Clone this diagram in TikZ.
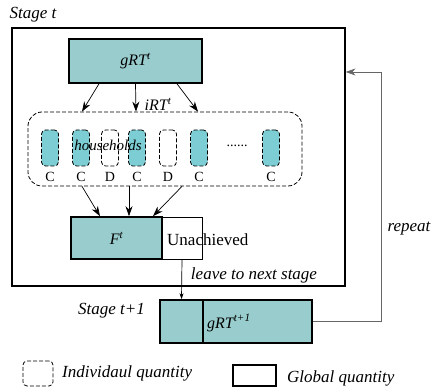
\documentclass[tikz,border=0pt]{standalone}
\usepackage{fontspec}
\setmainfont{Liberation Serif}
\usepackage{xcolor}
\usetikzlibrary{calc,positioning,arrows.meta}

\definecolor{gfill}{RGB}{153,204,204}
\definecolor{hfill}{RGB}{125,206,212}

\begin{document}
\begin{tikzpicture}[x=1pt,y=-1pt,
  gbox/.style={draw,line width=1.6pt,fill=gfill,inner sep=0pt},
  dsh/.style={draw,dash pattern=on 4pt off 2pt,line width=0.8pt},
  hbox/.style={dsh,rounded corners=4pt,minimum width=17,minimum height=36,inner sep=0pt},
  arr/.style={-{Stealth[length=10pt,width=7pt]},line width=0.7pt},
  lab/.style={font=\fontsize{17}{19}\selectfont\itshape,inner sep=0pt}]
\useasboundingbox (0,0) rectangle (432,387);
% stage t
\node [draw,line width=1.2pt,minimum width=333,minimum height=258,inner sep=0pt] (stage) at (178.5,157) {};
\node [lab] (st) at (33,15) {Stage t};
\node [gbox,minimum width=133,minimum height=44,font=\fontsize{16}{18}\selectfont\itshape] (grt) at (135.5,61) {gRT\textsuperscript{t}};
\node [dsh,rounded corners=14pt,minimum width=274,minimum height=74,inner sep=0pt] (hh) at (165,149) {};
\foreach \x/\t/\f in {50/C/hfill,81/C/hfill,110/D/white,137/C/hfill,168/D/white,199/C/hfill,271/C/hfill}
  {\node [hbox,fill=\f] (h\x) at (\x,148) {};
   \node [font=\fontsize{14}{16}\selectfont,inner sep=0pt] (c\x) at (\x,177) {\t};}
\node [font=\fontsize{14}{16}\selectfont,inner sep=0pt] (dots) at (237,146) {......};
\node [font=\fontsize{15}{17}\selectfont\itshape,inner sep=0pt] (hlab) at (108,145) {households};
\node [font=\fontsize{16}{18}\selectfont\itshape,inner sep=0pt] (irt) at (158,104) {iRT\textsuperscript{t}};
\draw [arr] ([xshift=-36.5]grt.south) -- ([xshift=-83]hh.north);
\draw [arr] (grt.south) -- ([xshift=-29]hh.north);
\draw [arr] ([xshift=41.5]grt.south) -- ([xshift=33]hh.north);
\node [gbox,minimum width=91,minimum height=42,font=\fontsize{16}{18}\selectfont\itshape] (f) at (116.5,238) {F\textsuperscript{t}};
\node [draw,line width=0.6pt,minimum width=40,minimum height=42,inner sep=0pt] (ua) at (182,238) {};
\node [font=\fontsize{17}{19}\selectfont,inner sep=0pt,anchor=west] (ualab) at (167,240) {Unachieved};
\draw [arr] ([xshift=-83]hh.south) -- ([xshift=-16.5]f.north);
\draw [arr] ([xshift=-36]hh.south) -- ([xshift=12.5]f.north);
\draw [arr] ([xshift=17]hh.south) -- ([xshift=36.5]f.north);
% stage t+1
\node [gbox,minimum width=43,minimum height=43] (nl) at (181.5,321.5) {};
\node [gbox,minimum width=109,minimum height=43] (ng) at (257.5,321.5) {};
\node [font=\fontsize{16}{18}\selectfont\itshape,inner sep=0pt,anchor=west] (ngl) at (207,323) {gRT\textsuperscript{t+1}};
\node [lab] (st2) at (111.5,311) {Stage t+1};
\draw [-{Stealth[length=6pt,width=4pt]},line width=0.7pt] (ua.south) -- (nl.north);
\node [lab] (leave) at (254,275) {leave to next stage};
% repeat
\coordinate (rp) at (381,72);
\draw [gray!80!black,line width=0.8pt,arr] (ng.east) -| (rp) -- (stage.east |- rp);
\node [lab] (rep) at (409,229) {repeat};
% legend
\node [dsh,rounded corners=4pt,minimum width=30,minimum height=25,inner sep=0pt] (lg1) at (38,373.5) {};
\node [lab,anchor=west] (lg1t) at (62,373) {Individaul quantity};
\node [draw,line width=1.2pt,minimum width=43,minimum height=21,inner sep=0pt] (lg2) at (254.5,375.5) {};
\node [lab,anchor=west] (lg2t) at (287,378) {Global quantity};
\end{tikzpicture}
\end{document}
